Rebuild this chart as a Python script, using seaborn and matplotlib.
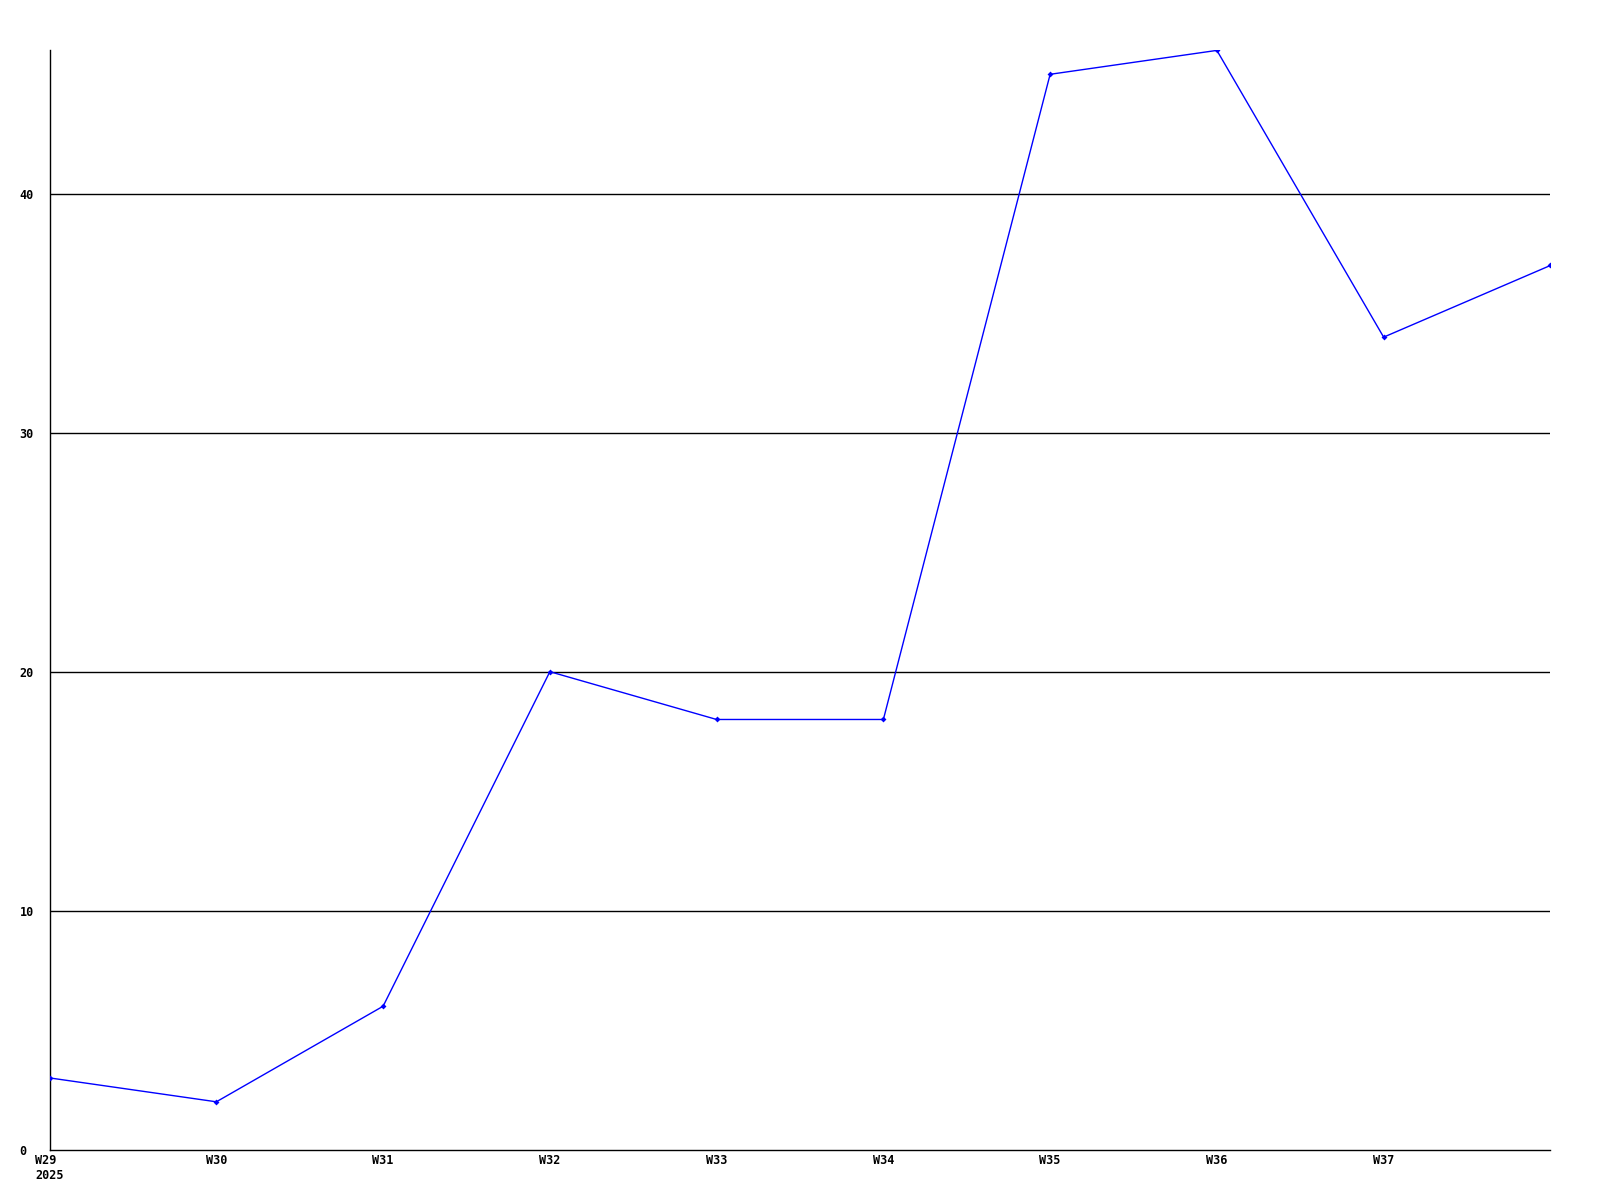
import matplotlib
matplotlib.use("Agg")
import matplotlib.pyplot as plt
import seaborn as sns
import pandas as pd

# data
weeks = ["W29", "W30", "W31", "W32", "W33", "W34", "W35", "W36", "W37", "W38"]
values = [3, 2, 6, 20, 18, 18, 45, 46, 34, 37]
tick_labels = ["W29\n2025", "W30", "W31", "W32", "W33", "W34", "W35", "W36", "W37"]
y_ticks = [0, 10, 20, 30, 40]

sns.set_theme(style="white")
plt.rcParams["font.family"] = ["DejaVu Sans Mono"]

df = pd.DataFrame({"pos": range(len(weeks)), "week": weeks, "value": values})

fig = plt.figure(figsize=(16, 12), dpi=100)
ax = fig.add_axes([0.031, 0.042, 0.938, 0.916])

for y in y_ticks[1:]:
    ax.axhline(y, color="black", linewidth=1.0, zorder=1)

sns.lineplot(data=df, x="pos", y="value", ax=ax, color="#0000ff",
             linewidth=1.0, marker="D", markersize=3, markeredgewidth=0,
             zorder=3)

ax.set_xlim(0, len(weeks) - 1)
ax.set_ylim(0, 46)
ax.set_xticks(range(len(tick_labels)))
ax.set_xticklabels(tick_labels, multialignment="left")
ax.set_yticks(y_ticks)
ax.set_xlabel("")
ax.set_ylabel("")
ax.tick_params(axis="both", length=0, labelsize=8.5, labelcolor="black")
ax.tick_params(axis="x", pad=3)
# left-aligned y labels, ~30px left of the axis
ax.tick_params(axis="y", pad=21.5)
for lbl in ax.get_yticklabels():
    lbl.set_horizontalalignment("left")
for lbl in ax.get_xticklabels() + ax.get_yticklabels():
    lbl.set_fontweight("bold")

for side in ["top", "right"]:
    ax.spines[side].set_visible(False)
for side in ["left", "bottom"]:
    ax.spines[side].set_color("black")
    ax.spines[side].set_linewidth(1.0)

fig.savefig("out.png", dpi=100)
